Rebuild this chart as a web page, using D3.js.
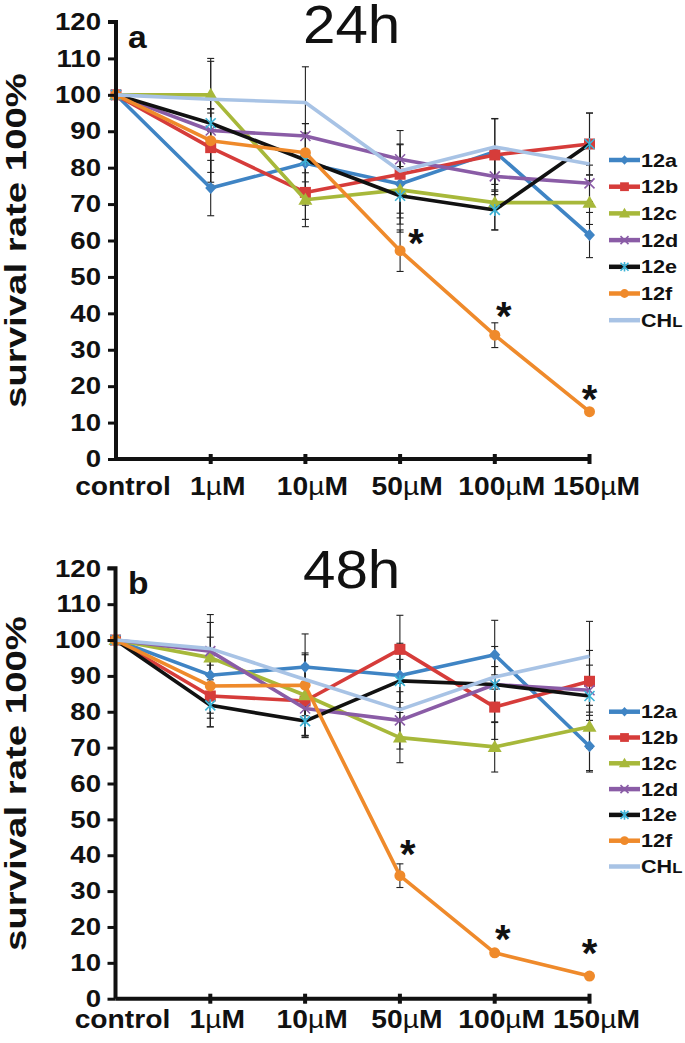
<!DOCTYPE html>
<html><head><meta charset="utf-8">
<script src="https://cdn.jsdelivr.net/npm/d3@7"></script>
<style>
body{margin:0;background:#fff}
text{font-family:'Liberation Sans',Arial,Helvetica,sans-serif}
</style>
</head><body>
<svg id="chart" width="685" height="1043"></svg>
<script>
// ---------- DATA ----------
const categories = ["control", "1", "10", "50", "100", "150"];
const seriesNames = ["12a", "12b", "12c", "12d", "12e", "12f", "CHL"];
const yTickValues = [0, 10, 20, 30, 40, 50, 60, 70, 80, 90, 100, 110, 120];

// 24h survival (%)
const h24_12a = [100, 74.4, 81.2, 75.5, 84.4, 61.5];
const h24_12b = [100, 85.5, 73.2, 78.2, 83.5, 86.5];
const h24_12c = [100, 100, 71.2, 73.9, 70.4, 70.4];
const h24_12d = [100, 90.2, 88.7, 82.3, 77.6, 75.7];
const h24_12e = [100, 92.2, 82.1, 72.3, 68.4, 86.5];
const h24_12f = [100, 87.4, 84.1, 57.2, 34.0, 13.0];
const h24_CHL = [100, 98.8, 97.9, 79.1, 85.7, 81.0];
// 24h error (±)
const e24_12a = [0, 7.6, 8.3, 11, 9, 6.2];
const e24_12b = [0, 9.5, 7.4, 12, 10, 8.5];
const e24_12c = [0, 10, 7.4, 6.4, 7.5, 6];
const e24_12d = [0, 6, 19, 4, 5, 5];
const e24_12e = [0, 17, 10, 10, 5.5, 8.5];
const e24_12f = [0, 8.7, 8, 5.7, 3.4, 0.8];
const e24_CHL = [0, 0, 0, 0, 0, 0];

// 48h survival (%)
const h48_12a = [100, 90.2, 92.5, 90.1, 95.9, 70.4];
const h48_12b = [100, 84.4, 83.0, 97.4, 81.3, 88.5];
const h48_12c = [100, 95.1, 84.6, 72.8, 70.2, 75.8];
const h48_12d = [100, 96.9, 80.9, 77.6, 87.6, 86.0];
const h48_12e = [100, 81.8, 77.4, 88.6, 87.6, 84.4];
const h48_12f = [100, 87.2, 87.4, 34.3, 12.8, 6.3];
const h48_CHL = [100, 97.6, 89.0, 80.6, 89.7, 95.5];
// 48h error (±)
const e48_12a = [0, 10.6, 9.2, 9, 9.6, 7.2];
const e48_12b = [0, 8.6, 10, 9.5, 9, 8.6];
const e48_12c = [0, 12, 11.8, 7, 7, 6];
const e48_12d = [0, 8, 7.5, 8, 10.6, 7];
const e48_12e = [0, 6, 4, 6, 5, 20.8];
const e48_12f = [0, 9, 8.5, 3.3, 0.7, 0.5];
const e48_CHL = [0, 0, 0, 0, 0, 0];

// significance marks (categories with *)
const stars24 = ["50", "100", "150"];
const stars48 = ["50", "100", "150"];

// ---------- STYLE ----------
const colors = {"12a":"#3f84c4","12b":"#d63c3a","12c":"#a7b83a","12d":"#8a5ca6","12e":"#111111","12f":"#ef8a2b","CHL":"#a8c3e5"};
const markerColors = {"12a":"#3f84c4","12b":"#d63c3a","12c":"#a7b83a","12d":"#8a5ca6","12e":"#3db3d6","12f":"#ef8a2b","CHL":null};
const markerTypes = {"12a":"diamond","12b":"square","12c":"triangle","12d":"x","12e":"star","12f":"circle","CHL":"none"};

const svg = d3.select("#chart");

function drawMarker(g, type, color, x, y, s) {
  if (type === "diamond") {
    g.append("path").attr("d", `M${x},${y-6*s}L${x+5.5*s},${y}L${x},${y+6*s}L${x-5.5*s},${y}Z`).attr("fill", color);
  } else if (type === "square") {
    g.append("rect").attr("x", x-5.5*s).attr("y", y-5.5*s).attr("width", 11*s).attr("height", 11*s).attr("fill", color);
  } else if (type === "triangle") {
    g.append("path").attr("d", `M${x},${y-7*s}L${x+7*s},${y+5*s}L${x-7*s},${y+5*s}Z`).attr("fill", color);
  } else if (type === "x") {
    const r = 5*s;
    g.append("path").attr("d", `M${x-r},${y-r}L${x+r},${y+r}M${x-r},${y+r}L${x+r},${y-r}`)
      .attr("stroke", color).attr("stroke-width", 1.6).attr("fill", "none");
  } else if (type === "star") {
    const r = 5*s;
    g.append("path").attr("d", `M${x-r},${y-r}L${x+r},${y+r}M${x-r},${y+r}L${x+r},${y-r}M${x},${y-r*1.2}L${x},${y+r*1.2}`)
      .attr("stroke", color).attr("stroke-width", 1.6).attr("fill", "none");
  } else if (type === "circle") {
    g.append("circle").attr("cx", x).attr("cy", y).attr("r", 5.5*s).attr("fill", color);
  }
}

function drawPanel(cfg) {
  const g = svg.append("g");
  const x = d3.scalePoint().domain(categories).range([cfg.xLeft, cfg.xRight]);
  const y = d3.scaleLinear().domain([0, 120]).range([cfg.yBottom, cfg.yTop]);

  // title & panel letter
  g.append("text").attr("transform", `translate(303,${cfg.titleY}) scale(1.08,1)`)
    .attr("font-size", 54).attr("fill", "#111").text(cfg.title);
  g.append("text").attr("transform", `translate(128,${cfg.letterY}) scale(1.05,1)`)
    .attr("font-size", 32).attr("font-weight", "bold").attr("fill", "#111").text(cfg.letter);

  // y axis label
  g.append("text")
    .attr("transform", `translate(25.5,${(cfg.yTop+cfg.yBottom)/2}) rotate(-90) scale(1.28,1)`)
    .attr("text-anchor", "middle").attr("font-size", 30).attr("font-weight", "bold").attr("fill", "#111")
    .text("survival rate 100%");

  // series: error bars, lines, markers
  cfg.series.forEach(s => {
    const sg = g.append("g");
    s.values.forEach((v, i) => {
      const e = s.errors[i];
      if (!e) return;
      const cx = x(categories[i]);
      sg.append("line").attr("x1", cx).attr("x2", cx).attr("y1", y(v+e)).attr("y2", y(v-e))
        .attr("stroke", "#222").attr("stroke-width", 1.1);
      [v+e, v-e].forEach(t => sg.append("line").attr("x1", cx-3.5).attr("x2", cx+3.5)
        .attr("y1", y(t)).attr("y2", y(t)).attr("stroke", "#222").attr("stroke-width", 1.1));
    });
  });
  cfg.series.forEach(s => {
    const line = d3.line().x((d, i) => x(categories[i])).y(d => y(d));
    g.append("path").datum(s.values).attr("d", line).attr("fill", "none")
      .attr("stroke", colors[s.name]).attr("stroke-width", 3.6).attr("stroke-linejoin", "round");
    s.values.forEach((v, i) => drawMarker(g, markerTypes[s.name], markerColors[s.name], x(categories[i]), y(v), 1));
  });

  // axes
  const yAxis = d3.axisLeft(y).tickValues(yTickValues).tickSize(8).tickFormat("");
  const ya = g.append("g").attr("transform", `translate(${cfg.xLeft},0)`).call(yAxis);
  ya.select(".domain").attr("stroke", "#111").attr("stroke-width", 4).attr("d", `M-8,${cfg.yTop}H0V${cfg.yBottom}`);
  ya.selectAll(".tick line").attr("stroke", "#111").attr("stroke-width", 3);
  yTickValues.forEach(t => {
    g.append("text").attr("transform", `translate(101,${y(t)+8.2}) scale(1.2,1)`)
      .attr("text-anchor", "end").attr("font-size", 23).attr("font-weight", "bold").attr("fill", "#111").text(t);
  });

  const xAxis = d3.axisBottom(x).tickSize(0).tickFormat("");
  const xa = g.append("g").attr("transform", `translate(0,${cfg.yBottom})`).call(xAxis);
  xa.select(".domain").attr("stroke", "#111").attr("stroke-width", 4).attr("d", `M${cfg.xLeft},0H${cfg.xRight}`);
  categories.forEach((c, i) => {
    if (i > 0) g.append("rect").attr("x", x(c)-2).attr("y", cfg.yBottom-5).attr("width", 4).attr("height", 10).attr("fill", "#111");
    const t = g.append("text").attr("transform", `translate(${x(c)+7},${cfg.yBottom+cfg.xLabelDy}) scale(1.13,1)`)
      .attr("text-anchor", "middle").attr("font-size", 25).attr("font-weight", "bold").attr("fill", "#111");
    if (c === "control") t.text(c);
    else {
      t.append("tspan").text(c);
      t.append("tspan").attr("font-weight", "normal").text("µ");
      t.append("tspan").text("M");
    }
  });

  // significance stars
  const f = cfg.series.find(s => s.name === "12f");
  cfg.stars.forEach((c, k) => {
    const i = categories.indexOf(c);
    const off = cfg.starOffsets[k];
    g.append("text").attr("x", x(c) + off[0]).attr("y", y(f.values[i]) + off[1] + 23)
      .attr("text-anchor", "middle").attr("font-size", 40).attr("font-weight", "bold").attr("fill", "#111").text("*");
  });

  // legend
  seriesNames.forEach((n, k) => {
    const ly = cfg.legendY + k*cfg.legendStep;
    g.append("line").attr("x1", 609).attr("x2", 640).attr("y1", ly).attr("y2", ly)
      .attr("stroke", colors[n]).attr("stroke-width", 4.5);
    drawMarker(g, markerTypes[n], markerColors[n], 624.5, ly, 0.8);
    const t = g.append("text").attr("transform", `translate(641,${ly+6.5}) scale(1.2,1)`)
      .attr("font-size", 18).attr("font-weight", "bold").attr("fill", "#111");
    if (n === "CHL") { t.append("tspan").text("CH"); t.append("tspan").attr("font-size", 14).text("L"); }
    else t.text(n);
  });
}

function build(prefix, names) {
  return names.map(n => ({name: n, values: eval(prefix[0] + "_" + n), errors: eval(prefix[1] + "_" + n)}));
}

drawPanel({
  title: "24h", letter: "a", titleY: 43, letterY: 48,
  xLeft: 116, xRight: 589.5, yTop: 22, yBottom: 459, xLabelDy: 36,
  legendY: 160, legendStep: 26.7,
  series: build(["h24", "e24"], seriesNames),
  stars: stars24, starOffsets: [[16, -17], [9, -28], [0, -22]]
});
drawPanel({
  title: "48h", letter: "b", titleY: 588, letterY: 594,
  xLeft: 115.5, xRight: 589.5, yTop: 568.3, yBottom: 998.7, xLabelDy: 29.6,
  legendY: 711.7, legendStep: 25.8,
  series: build(["h48", "e48"], seriesNames),
  stars: stars48, starOffsets: [[8, -31], [8, -23], [0, -32]]
});
</script>
</body></html>
